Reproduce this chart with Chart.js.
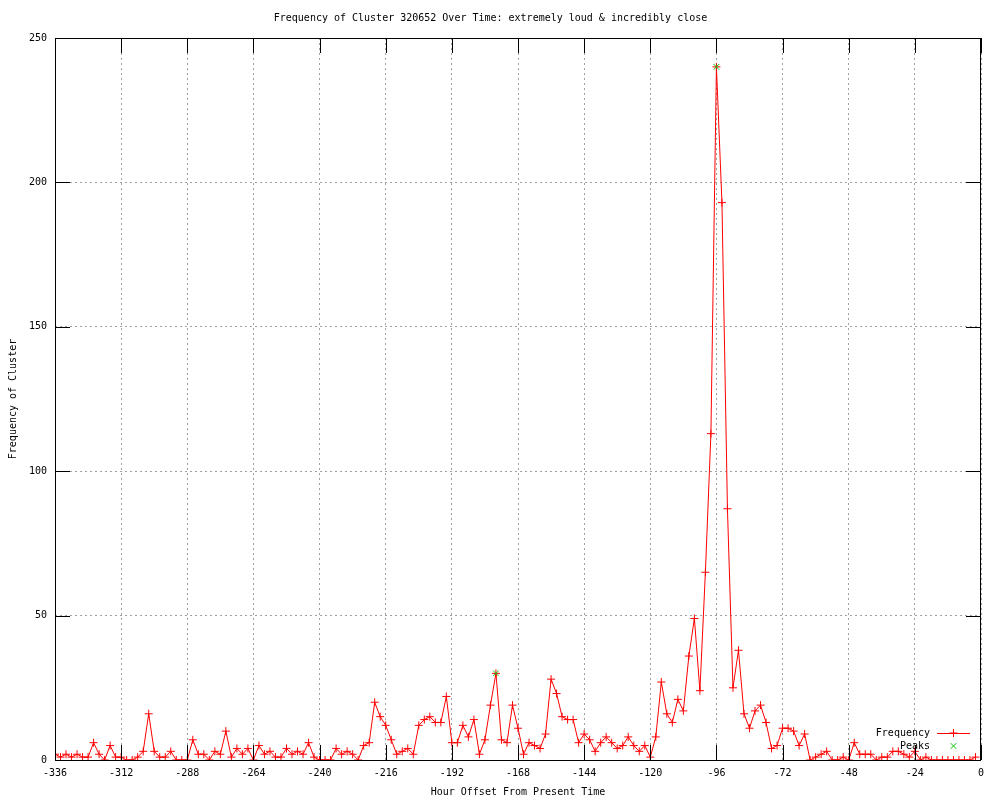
<!DOCTYPE html>
<html>
<head>
<meta charset="utf-8">
<title>Frequency of Cluster 320652</title>
<script src="https://cdn.jsdelivr.net/npm/chart.js@4.4.0/dist/chart.umd.min.js"></script>
<style>
  html, body { margin: 0; padding: 0; background: #fff; }
  #wrap { width: 1000px; height: 800px; position: relative; }
</style>
</head>
<body>
<div id="wrap"><canvas id="freqChart"></canvas></div>
<script>
/* global Chart */
const FONT = 'DejaVu Sans Mono';
const TIC = 15; // gnuplot draws tics inward, on all four sides

// one sample every 2 hours, starting 336 hours back
const startHour = -336;
const stepHours = 2;
const frequency = [
  2, 1, 2, 1, 2, 1, 1, 6, 2, 0, 5, 1, 1, 0, 0, 1, 3, 16, 3, 1,
  1, 3, 0, 0, 0, 7, 2, 2, 0, 3, 2, 10, 1, 4, 2, 4, 0, 5, 2, 3,
  1, 1, 4, 2, 3, 2, 6, 1, 0, 0, 0, 4, 2, 3, 2, 0, 5, 6, 20, 15,
  12, 7, 2, 3, 4, 2, 12, 14, 15, 13, 13, 22, 6, 6, 12, 8, 14, 2, 7, 19,
  30, 7, 6, 19, 11, 2, 6, 5, 4, 9, 28, 23, 15, 14, 14, 6, 9, 7, 3, 6,
  8, 6, 4, 5, 8, 5, 3, 5, 1, 8, 27, 16, 13, 21, 17, 36, 49, 24, 65, 113,
  240, 193, 87, 25, 38, 16, 11, 17, 19, 13, 4, 5, 11, 11, 10, 5, 9, 0, 1, 2,
  3, 0, 0, 1, 0, 6, 2, 2, 2, 0, 1, 1, 3, 3, 2, 1, 3, 0, 1, 0,
  0, 0, 0, 0, 0, 0, 0, 1,
];
const hours = frequency.map((_, i) => startHour + i * stepHours);

const peakHours = [-176, -96];
const peakValues = [30, 240];

const xMin = -336;
const xMax = 0;
const xStep = 24;
const yMin = 0;
const yMax = 250;
const yStep = 50;

const RED = '#ff0000';
const GREEN = '#00c000';
const GRID = '#a0a0a0';

Chart.defaults.color = '#000';
Chart.defaults.font.family = FONT;
Chart.defaults.font.size = 10;

// border box, inward tics and the little gnuplot key
const gnuplotFrame = {
  id: 'gnuplotFrame',
  afterDatasetsDraw(chart) {
    const { ctx, chartArea: a, scales } = chart;
    const x = scales.x;
    const y = scales.y;
    ctx.save();
    ctx.strokeStyle = '#000';
    ctx.lineWidth = 1;
    ctx.beginPath();
    x.ticks.forEach((t) => {
      const px = Math.round(x.getPixelForValue(t.value)) + 0.5;
      ctx.moveTo(px, a.bottom);
      ctx.lineTo(px, a.bottom - TIC);
      ctx.moveTo(px, a.top);
      ctx.lineTo(px, a.top + TIC);
    });
    y.ticks.forEach((t) => {
      const py = Math.round(y.getPixelForValue(t.value)) + 0.5;
      ctx.moveTo(a.left, py);
      ctx.lineTo(a.left + TIC, py);
      ctx.moveTo(a.right, py);
      ctx.lineTo(a.right - TIC, py);
    });
    ctx.stroke();
    ctx.strokeRect(a.left + 0.5, a.top + 0.5, a.right - a.left - 1, a.bottom - a.top);

    // key, bottom right inside the plot
    const textRight = a.right - 51;
    const sampleL = a.right - 44;
    const sampleR = a.right - 11;
    const sampleMid = (sampleL + sampleR) / 2;
    const row1 = a.bottom - 27;
    const row2 = a.bottom - 14;
    ctx.font = `10px ${FONT}`;
    ctx.fillStyle = '#000';
    ctx.textAlign = 'right';
    ctx.textBaseline = 'middle';
    chart.data.datasets.forEach((ds, i) => {
      const rowY = i === 0 ? row1 : row2;
      ctx.fillText(ds.label, textRight, rowY);
      ctx.strokeStyle = ds.borderColor;
      if (ds.showLine !== false) {
        ctx.beginPath();
        ctx.moveTo(sampleL, Math.round(rowY) + 0.5);
        ctx.lineTo(sampleR, Math.round(rowY) + 0.5);
        ctx.stroke();
      }
      Chart.helpers.drawPoint(ctx, {
        pointStyle: ds.pointStyle,
        radius: ds.pointRadius,
        rotation: 0,
        borderWidth: 1,
      }, sampleMid, rowY);
    });
    ctx.restore();
  },
};

const chart = new Chart(document.getElementById('freqChart'), {
  type: 'line',
  data: {
    datasets: [
      {
        label: 'Frequency',
        data: hours.map((h, i) => ({ x: h, y: frequency[i] })),
        borderColor: RED,
        backgroundColor: RED,
        borderWidth: 1,
        pointStyle: 'cross',
        pointRadius: 4,
        pointBorderWidth: 1,
        tension: 0,
        fill: false,
        order: 1,
      },
      {
        label: 'Peaks',
        data: peakHours.map((h, i) => ({ x: h, y: peakValues[i] })),
        borderColor: GREEN,
        backgroundColor: GREEN,
        showLine: false,
        pointStyle: 'crossRot',
        pointRadius: 4,
        pointBorderWidth: 1,
        order: 0,
      },
    ],
  },
  options: {
    responsive: true,
    maintainAspectRatio: false,
    animation: false,
    layout: { padding: { top: 0, right: 19, bottom: 0, left: 0 } },
    scales: {
      x: {
        type: 'linear',
        min: xMin,
        max: xMax,
        afterFit: (s) => { s.height = 40; },
        ticks: { stepSize: xStep, autoSkip: false, maxRotation: 0, padding: 7 },
        grid: { color: GRID, drawTicks: false },
        border: { display: false, dash: [2, 3] },
        title: {
          display: true,
          text: 'Hour Offset From Present Time',
          padding: { top: 0, bottom: 2 },
        },
      },
      y: {
        min: yMin,
        max: yMax,
        afterFit: (s) => { s.width = 55; },
        ticks: { stepSize: yStep, padding: 8 },
        grid: { color: GRID, drawTicks: false },
        border: { display: false, dash: [2, 3] },
        title: {
          display: true,
          text: 'Frequency of Cluster',
          padding: { top: 7, bottom: 0 },
        },
      },
    },
    plugins: {
      legend: { display: false },
      tooltip: { enabled: false },
      title: {
        display: true,
        text: 'Frequency of Cluster 320652 Over Time: extremely loud & incredibly close',
        font: { family: FONT, size: 10, weight: 'normal' },
        color: '#000',
        padding: { top: 12, bottom: 14 },
      },
    },
  },
  plugins: [gnuplotFrame],
});
</script>
</body>
</html>
